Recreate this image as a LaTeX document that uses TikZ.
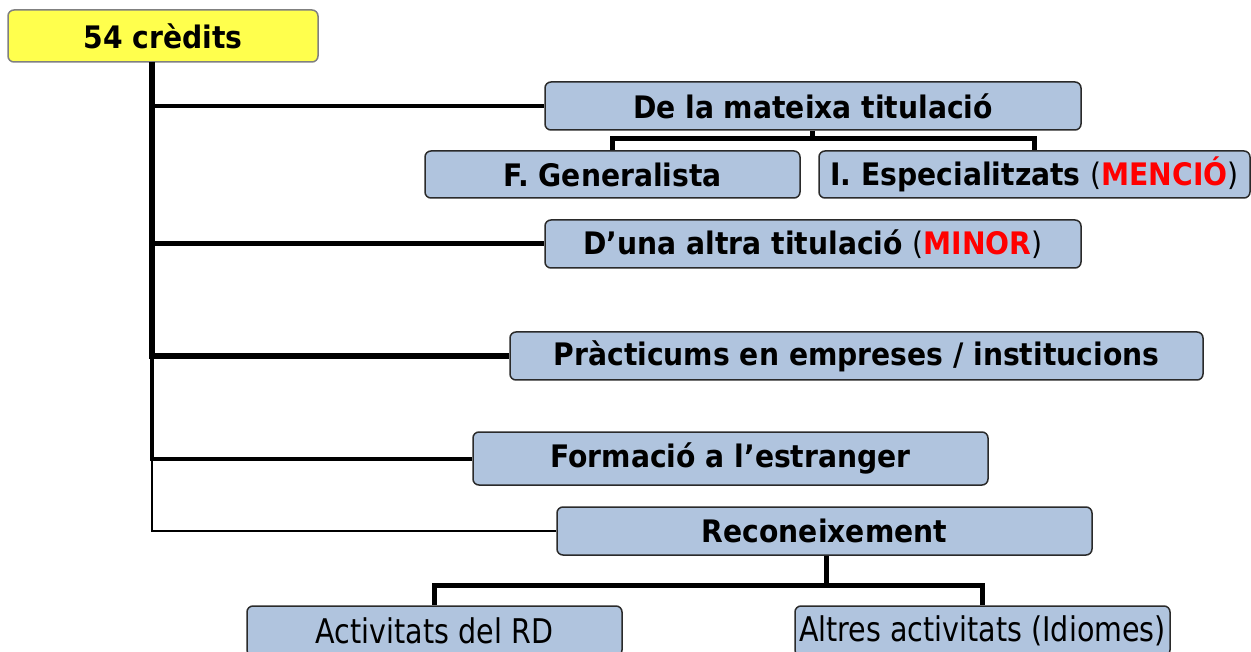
\documentclass[tikz,border=0pt]{standalone}
\usepackage{fontspec}
\setmainfont{DejaVu Sans}[FakeStretch=0.91]
\newfontfamily\thinfont{DejaVu Sans}[FakeStretch=0.84]
\definecolor{boxblue}{HTML}{B0C4DE}
\definecolor{boxyellow}{HTML}{FFFF4D}
\definecolor{bordergray}{HTML}{2A2A2A}
\tikzset{
  x=1pt, y=-1pt,
  box/.style={draw=bordergray, line width=1.5pt, fill=boxblue, rounded corners=6pt,
    inner sep=0pt, font=\fontsize{31}{34}\selectfont\bfseries},
  thinbox/.style={box, font=\fontsize{34}{36}\selectfont\thinfont},
  conn/.style={draw=black, line width=#1},
  conn/.default=4pt,
}
\begin{document}
\begin{tikzpicture}
\useasboundingbox (0,0) rectangle (1251,652);
\clip (0,0) rectangle (1251,652);
\node[box, fill=boxyellow, draw=gray, minimum width=310pt, minimum height=52pt] (credits) at (163,36) {54 crèdits};
\node[box, minimum width=536pt, minimum height=48pt] (mateixa) at (813,106) {De la mateixa titulació};
\node[box, minimum width=375pt, minimum height=47pt] (gen) at (612.5,174.5) {F. Generalista};
\node[box, minimum width=431pt, minimum height=47pt] (esp) at (1034.5,174.5) {I. Especialitzats \textmd{(}\textcolor{red}{MENCIÓ}\textmd{)}};
\node[box, minimum width=536pt, minimum height=48pt] (duna) at (813,244) {D’una altra titulació \textmd{(}\textcolor{red}{MINOR}\textmd{)}};
\node[box, minimum width=693pt, minimum height=48pt] (prac) at (856.5,356) {Pràcticums en empreses / institucions};
\node[box, minimum width=515pt, minimum height=53pt] (form) at (730.5,458.5) {Formació a l’estranger};
\node[box, minimum width=535pt, minimum height=48pt] (recon) at (824.5,531) {Reconeixement};
\node[thinbox, minimum width=375pt, minimum height=50pt] (rd) at (434.5,631) {Activitats del RD};
\node[thinbox, minimum width=375pt, minimum height=50pt] (alt) at (982.5,631) {Altres activitats (Idiomes)};
\coordinate (top) at (152,62);
\draw[conn=1.6pt] (top) |- (recon.west);
\draw[conn=4pt] (top) |- (form.west);
\draw[conn=5.5pt] (top) |- (prac.west);
\draw[conn=5pt] (top) |- (duna.west);
\draw[conn=4pt] (top) |- (mateixa.west);
\coordinate (mj) at (812,139);
\draw[conn=5pt] (mateixa.south -| mj) -- (mj) -| (gen.north);
\draw[conn=5pt] (mj) -| (esp.north);
\coordinate (rj) at (826,585);
\draw[conn=5pt] (recon.south -| rj) -- (rj) -| (rd.north);
\draw[conn=5pt] (rj) -| (alt.north);
\end{tikzpicture}
\end{document}
